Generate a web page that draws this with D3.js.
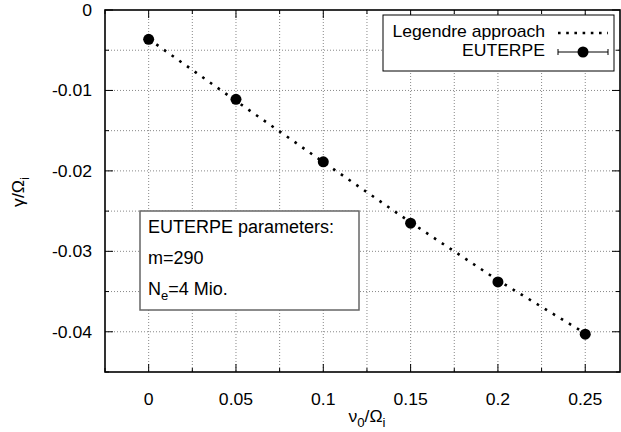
<!DOCTYPE html>
<meta charset="utf-8">
<style>
body { margin: 0; background: #fff; }
text { font-family: "Liberation Sans", Arial, sans-serif; font-size: 16px; fill: #000; }
.grid line { stroke: #888; stroke-width: 1px; stroke-dasharray: 1,2; }
.frame { fill: none; stroke: #000; stroke-width: 1.6px; }
.tick { stroke: #000; stroke-width: 1px; }
</style>
<body>
<svg id="chart" width="621" height="432"></svg>
<script src="https://d3js.org/d3.v7.min.js"></script>
<script>

// data
const nu = [0, 0.05, 0.1, 0.15, 0.2, 0.25]
const euterpe = [-0.00365, -0.0111, -0.01887, -0.0265, -0.0338, -0.0403]
const legendre = [-0.0036, -0.0113, -0.0189, -0.0264, -0.0336, -0.0402]
const xTicks = [0, 0.05, 0.1, 0.15, 0.2, 0.25]
const yTicks = [0, -0.01, -0.02, -0.03, -0.04]
const xMinor = [-0.025, 0, 0.025, 0.05, 0.075, 0.1, 0.125, 0.15, 0.175, 0.2, 0.225, 0.25]
const yMinor = [0, -0.005, -0.01, -0.015, -0.02, -0.025, -0.03, -0.035, -0.04, -0.045]
const params = ["EUTERPE parameters:", "m=290", "N_e=4 Mio."]

const L = 105, T = 10, R = 620, B = 372
const SX = 1.1  // the reference text is a bit wide

const svg = d3.select("#chart")
const x = d3.scaleLinear().domain([-0.025, 0.2699]).range([L, R])
const y = d3.scaleLinear().domain([-0.045, 0]).range([B, T])

function label(px, py, anchor, sx) {
  return svg.append("text")
      .attr("transform", `translate(${px},${py}) scale(${sx},1)`)
      .attr("text-anchor", anchor)
}

// grid
const grid = svg.append("g").attr("class", "grid")
grid.selectAll(".gx").data(xMinor.filter(d => d > -0.025)).enter().append("line")
    .attr("x1", d => x(d)).attr("x2", d => x(d)).attr("y1", T).attr("y2", B)
grid.selectAll(".gy").data(yMinor.filter(d => d > -0.045 && d < 0)).enter().append("line")
    .attr("y1", d => y(d)).attr("y2", d => y(d)).attr("x1", L).attr("x2", R)

// ticks on all four sides
const ticks = svg.append("g")
xMinor.forEach(d => {
  const len = xTicks.includes(d) ? 8 : 4
  ticks.append("line").attr("class", "tick").attr("x1", x(d)).attr("x2", x(d)).attr("y1", B).attr("y2", B - len)
  ticks.append("line").attr("class", "tick").attr("x1", x(d)).attr("x2", x(d)).attr("y1", T).attr("y2", T + len)
})
yMinor.forEach(d => {
  const len = yTicks.includes(d) ? 8 : 4
  ticks.append("line").attr("class", "tick").attr("y1", y(d)).attr("y2", y(d)).attr("x1", L).attr("x2", L + len)
  ticks.append("line").attr("class", "tick").attr("y1", y(d)).attr("y2", y(d)).attr("x1", R).attr("x2", R - len)
})

// tick labels
xTicks.forEach(d => label(x(d), 405, "middle", SX).text(String(d)))
yTicks.forEach(d => label(92, y(d) + 6, "end", SX).text(String(d)))

// axis labels
const xl = label(367, 422, "middle", SX)
xl.append("tspan").text("ν")
xl.append("tspan").attr("dy", 5).style("font-size", "12px").text("0")
xl.append("tspan").attr("dy", -5).text("/Ω")
xl.append("tspan").attr("dy", 5).style("font-size", "12px").text("i")

const yl = svg.append("text").attr("transform", `translate(24,192) rotate(-90) scale(${SX},1)`).attr("text-anchor", "middle")
yl.append("tspan").text("γ/Ω")
yl.append("tspan").attr("dy", 5).style("font-size", "12px").text("i")

// Legendre approach line
const line = d3.line().x((d, i) => x(nu[i])).y(d => y(d))
svg.append("path").datum(legendre).attr("d", line)
    .attr("fill", "none").attr("stroke", "#000").attr("stroke-width", 2.6).attr("stroke-dasharray", "2.6,6.8")

// EUTERPE points
svg.selectAll(".pt").data(euterpe).enter().append("circle")
    .attr("cx", (d, i) => x(nu[i])).attr("cy", d => y(d)).attr("r", 5.5).attr("fill", "#000")

// legend
svg.append("rect").attr("x", 383).attr("y", 15).attr("width", 231).attr("height", 56)
    .attr("fill", "#fff").attr("stroke", "#000").attr("stroke-width", 1)
label(545, 37, "end", SX).text("Legendre approach")
label(545, 56, "end", SX).text("EUTERPE")
svg.append("line").attr("x1", 558).attr("x2", 608).attr("y1", 33).attr("y2", 33)
    .attr("stroke", "#000").attr("stroke-width", 2.6).attr("stroke-dasharray", "2.6,5.6")
svg.append("line").attr("x1", 558).attr("x2", 608).attr("y1", 52).attr("y2", 52).attr("stroke", "#000")
svg.append("line").attr("x1", 558).attr("x2", 558).attr("y1", 49).attr("y2", 55).attr("stroke", "#000")
svg.append("line").attr("x1", 608).attr("x2", 608).attr("y1", 49).attr("y2", 55).attr("stroke", "#000")
svg.append("circle").attr("cx", 583).attr("cy", 52).attr("r", 5.5).attr("fill", "#000")

// parameter box
svg.append("rect").attr("x", 140).attr("y", 211).attr("width", 219).attr("height", 99)
    .attr("fill", "#fff").attr("stroke", "#666").attr("stroke-width", 1.5)
params.forEach((p, i) => {
  const t = label(148, 233 + i * 31, "start", 1).style("font-size", "18px")
  if (p.includes("_")) {
    const [a, rest] = p.split("_")
    t.append("tspan").text(a)
    t.append("tspan").attr("dy", 5).style("font-size", "13px").text(rest[0])
    t.append("tspan").attr("dy", -5).text(rest.slice(1))
  } else {
    t.text(p)
  }
})

// frame
svg.append("rect").attr("class", "frame").attr("x", L).attr("y", T).attr("width", R - L).attr("height", B - T)

</script>
</body>
